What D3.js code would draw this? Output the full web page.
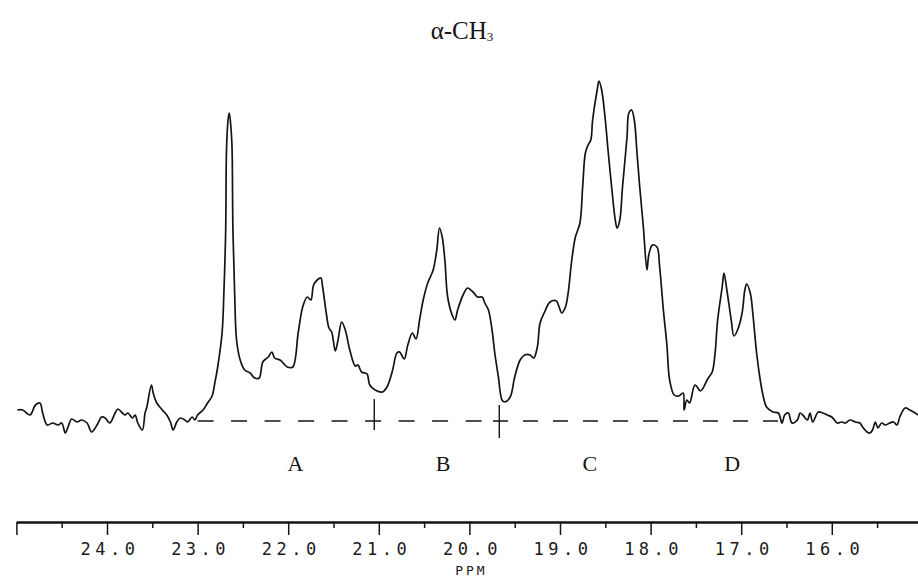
<!DOCTYPE html>
<html>
<head>
<meta charset="utf-8">
<script src="https://cdn.jsdelivr.net/npm/d3@7"></script>
<style>
  html, body { margin: 0; padding: 0; background: #fff; }
  svg { display: block; }
</style>
</head>
<body>
<svg id="chart" width="918" height="578"></svg>
<script>
// ---- data (ppm, relative intensity) ----
const ppm = [24.99,24.93,24.85,24.79,24.74,24.71,24.66,24.60,24.54,24.50,24.46,24.43,24.39,24.33,24.28,24.22,24.17,24.11,24.06,24.02,
23.97,23.91,23.88,23.83,23.80,23.77,23.72,23.69,23.66,23.61,23.58,23.56,23.51,23.49,23.45,23.39,23.34,23.30,23.27,23.23,
23.19,23.14,23.11,23.06,23.03,23.00,22.94,22.89,22.84,22.81,22.78,22.73,22.71,22.69,22.68,22.66,22.65,22.63,22.62,22.61,
22.59,22.57,22.53,22.48,22.42,22.37,22.32,22.28,22.22,22.18,22.15,22.09,22.01,21.95,21.89,21.84,21.79,21.75,21.72,21.68,
21.64,21.62,21.58,21.55,21.52,21.48,21.45,21.41,21.37,21.32,21.26,21.23,21.19,21.13,21.10,21.04,20.96,20.91,20.85,20.80,
20.77,20.72,20.68,20.63,20.59,20.55,20.51,20.46,20.40,20.36,20.33,20.30,20.27,20.24,20.19,20.16,20.13,20.07,20.02,19.96,
19.91,19.86,19.83,19.79,19.75,19.72,19.68,19.64,19.61,19.55,19.50,19.44,19.39,19.33,19.29,19.25,19.22,19.17,19.11,19.04,
19.01,18.98,18.94,18.91,18.87,18.83,18.78,18.75,18.72,18.69,18.66,18.64,18.59,18.57,18.54,18.50,18.47,18.43,18.39,18.37,
18.34,18.31,18.26,18.24,18.21,18.18,18.15,18.12,18.08,18.04,18.02,17.98,17.93,17.90,17.86,17.82,17.79,17.74,17.69,17.64,
17.63,17.60,17.57,17.51,17.45,17.42,17.37,17.32,17.29,17.26,17.21,17.19,17.16,17.11,17.08,17.04,16.99,16.96,16.94,16.90,
16.87,16.83,16.79,16.76,16.72,16.65,16.59,16.55,16.52,16.48,16.44,16.38,16.35,16.32,16.27,16.24,16.21,16.15,16.10,16.05,
16.00,15.94,15.89,15.85,15.80,15.74,15.69,15.66,15.61,15.58,15.55,15.52,15.49,15.45,15.41,15.36,15.32,15.28,15.25,15.19,
15.14,15.08,15.05];
const intensity = [11,11,6,16,18,8,-4,-2,-4,-2,-12,-6,2,-1,1,-2,-11,-4,4,3,
-2,8,12,8,6,8,3,6,-2,-9,8,14,36,28,18,11,6,-1,-9,-1,
3,1,-1,4,1,6,11,18,25,38,53,88,128,191,274,304,308,291,274,191,
124,81,61,51,48,43,43,59,64,69,63,61,54,54,88,114,124,121,136,141,
143,134,108,93,89,70,81,99,91,71,55,56,49,47,36,31,29,34,50,68,
69,62,76,88,82,101,121,138,151,171,193,184,160,124,106,101,111,126,133,129,
124,124,118,111,91,68,44,21,19,24,44,61,66,66,63,74,98,109,119,120,
114,108,114,128,161,184,198,234,268,276,281,301,331,340,331,301,271,234,201,193,
201,234,284,308,311,301,268,234,194,151,166,176,174,154,112,76,41,26,25,28,
11,21,18,36,30,33,42,49,66,101,134,148,132,101,85,91,108,131,137,128,
106,68,41,26,14,9,8,-2,6,8,-2,1,8,6,1,8,-1,9,8,6,
4,-2,-1,-2,1,-1,-2,-6,-11,-12,-9,-1,-7,-2,-4,-2,-1,-4,4,13,
11,8,6];

const majorTicks = [25, 24, 23, 22, 21, 20, 19, 18, 17, 16];
const minorTicks = [24.5, 23.5, 22.5, 21.5, 20.5, 19.5, 18.5, 17.5, 16.5, 15.5];
const labeledTicks = [24, 23, 22, 21, 20, 19, 18, 17, 16];

const regions = ["A", "B", "C", "D"];
const regionCenters = [21.92, 20.29, 18.67, 17.10];

const baselineLeft = [23.0, 19.74];
const baselineRight = [19.74, 16.55];
const integralMarks = [21.05, 19.67];

const titleMain = "α-CH";
const titleSub = "3";
const axisTitle = "PPM";

// ---- drawing ----
const svg = d3.select("#chart");
const ink = "#141414";

const x = d3.scaleLinear().domain([25, 15]).range([16.4, 922.4]);
const y = d3.scaleLinear().domain([0, 340]).range([421, 81]);

const pts = ppm.map((p, i) => [p, intensity[i]]);

svg.append("path")
  .datum(pts)
  .attr("fill", "none")
  .attr("stroke", ink)
  .attr("stroke-width", 1.7)
  .attr("stroke-linejoin", "round")
  .attr("d", d3.line().x(d => x(d[0])).y(d => y(d[1])).curve(d3.curveCatmullRom.alpha(0.5)));

// dashed integration baseline
svg.append("line")
  .attr("x1", x(baselineLeft[0])).attr("x2", x(baselineLeft[1]))
  .attr("y1", y(0)).attr("y2", y(0))
  .attr("stroke", ink).attr("stroke-width", 1.7)
  .attr("stroke-dasharray", "16,17.5");
svg.append("line")
  .attr("x1", x(baselineRight[0])).attr("x2", x(baselineRight[1]))
  .attr("y1", y(0)).attr("y2", y(0))
  .attr("stroke", ink).attr("stroke-width", 1.7)
  .attr("stroke-dasharray", "15,15");

// integral division marks
svg.selectAll("line.mark")
  .data(integralMarks)
  .join("line")
  .attr("class", "mark")
  .attr("x1", d => x(d)).attr("x2", d => x(d))
  .attr("y1", (d, i) => i === 0 ? y(22) : y(16))
  .attr("y2", (d, i) => i === 0 ? y(-9) : y(-17))
  .attr("stroke", ink).attr("stroke-width", 1.4);

// region labels
svg.selectAll("text.region")
  .data(regions)
  .join("text")
  .attr("class", "region")
  .attr("x", (d, i) => x(regionCenters[i]))
  .attr("y", 471)
  .attr("text-anchor", "middle")
  .attr("font-family", "Liberation Serif, Times New Roman, serif")
  .attr("font-size", 22)
  .attr("fill", ink)
  .text(d => d);

// title
const t = svg.append("text")
  .attr("x", 462).attr("y", 39)
  .attr("text-anchor", "middle")
  .attr("font-family", "Liberation Serif, Times New Roman, serif")
  .attr("font-size", 25)
  .attr("fill", ink);
t.append("tspan").text(titleMain);
t.append("tspan").attr("font-size", 13).attr("dy", 2).text(titleSub);

// axis
const axisY = 522;
const gMinor = svg.append("g").attr("transform", `translate(0,${axisY})`)
  .call(d3.axisBottom(x).tickValues(minorTicks).tickSize(6).tickSizeOuter(0).tickFormat(""));
const gMajor = svg.append("g").attr("transform", `translate(0,${axisY})`)
  .call(d3.axisBottom(x).tickValues(majorTicks).tickSize(13).tickSizeOuter(0)
    .tickFormat(d => labeledTicks.includes(d) ? d3.format(".1f")(d) : ""));

[gMinor, gMajor].forEach(g => {
  g.select(".domain").attr("stroke", ink).attr("stroke-width", 1.9);
  g.selectAll(".tick line").attr("stroke", ink).attr("stroke-width", 1.5);
});
gMajor.selectAll(".tick text")
  .attr("y", 33).attr("dy", 0).attr("dx", 2.5)
  .attr("font-family", "DejaVu Sans Mono, monospace")
  .attr("font-size", 17)
  .attr("letter-spacing", 4.5)
  .attr("fill", "#1a1a1a");

svg.append("text")
  .attr("x", x(20) + 2).attr("y", 575)
  .attr("text-anchor", "middle")
  .attr("font-family", "DejaVu Sans Mono, monospace")
  .attr("font-size", 13)
  .attr("letter-spacing", 3)
  .attr("fill", "#1a1a1a")
  .text(axisTitle);
</script>
</body>
</html>
